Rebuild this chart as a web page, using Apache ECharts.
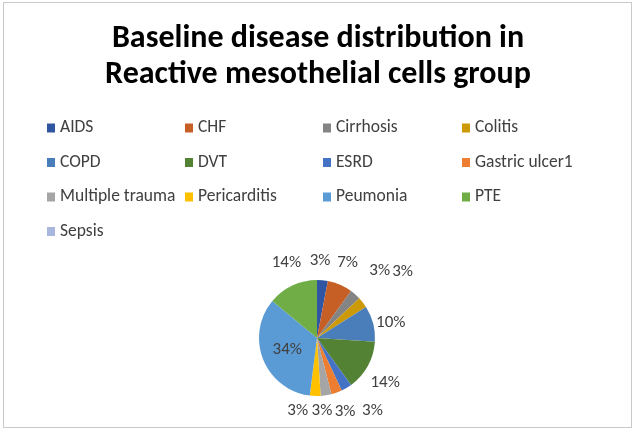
<!DOCTYPE html>
<html><head><meta charset="utf-8">
<script src="https://cdn.jsdelivr.net/npm/echarts@6/dist/echarts.min.js"></script>
<style>
html,body{margin:0;padding:0;background:#fff;}
#frame{position:absolute;left:3px;top:2px;width:627px;height:424px;border:1px solid #c9c9c9;}
#chart{position:absolute;left:0;top:0;width:636px;height:434px;}
</style></head>
<body>
<div id="frame"></div>
<div id="chart"></div>
<script>
const categories = ["AIDS","CHF","Cirrhosis","Colitis","COPD","DVT","ESRD","Gastric ulcer1","Multiple trauma","Pericarditis","Peumonia","PTE","Sepsis"];
const percentValues = [3,7,3,3,10,14,3,3,3,3,34,14,0];
const colors = ["#2F55A3","#C55F25","#848484","#CC9A08","#4A7EBA","#548235","#4472C4","#ED7D31","#A5A5A5","#FFC000","#5B9BD5","#70AD47","#A9B7DF"];
const legendColumns = [
  ["AIDS","COPD","Multiple trauma","Sepsis"],
  ["CHF","DVT","Pericarditis"],
  ["Cirrhosis","ESRD","Peumonia"],
  ["Colitis","Gastric ulcer1","PTE"]
];
// label nudges (dx, dy) applied to the library's default outside label placement (Excel best-fit look)
const labelNudges = [[-13,-17],[-4,-19],[12,-21],[27,-29],[0,0],[0,15],[14,20],[-3,16],[-15,13],[-7,12],[0,0],[10,-20],[0,0]];
const FONT = "Carlito, Calibri, Lato, 'Open Sans', sans-serif";
const colLeft = [47,185,323,462];
const chart = echarts.init(document.getElementById('chart'));
const legends = legendColumns.map((col,i)=>({
  data: col, orient:'vertical', left: colLeft[i], top: 119, padding:0,
  itemWidth: 8, itemHeight: 9, itemGap: 16.5, icon:'rect',
  textStyle:{fontFamily:FONT,fontSize:17.5,color:'#404040'},
  selectedMode:false
}));
chart.setOption({
  color: colors,
  animation:false,
  title:{
    text:'Baseline disease distribution in\nReactive mesothelial cells group',
    left:'center', top:16,
    textStyle:{fontFamily:FONT,fontSize:32,fontWeight:'bold',color:'#000',lineHeight:36}
  },
  legend: legends,
  series:[{
    type:'pie',
    center:[317,338], radius:58,
    startAngle:90, clockwise:true,
    avoidLabelOverlap:false,
    label:{show:true,position:'outside',formatter:'{c}%',fontFamily:FONT,fontSize:17,color:'#404040',distanceToLabelLine:0},
    labelLine:{show:false,length:3,length2:0},
    labelLayout:function(p){
      const n = labelNudges[p.dataIndex] || [0,0];
      return {dx:n[0], dy:n[1], hideOverlap:false};
    },
    data: categories.map((n,i)=>{
      const d={name:n,value:percentValues[i]};
      if(n==='Peumonia') d.label={position:'inside'};
      if(percentValues[i]===0) d.label={show:false};
      return d;
    })
  }]
});
</script>
</body></html>
